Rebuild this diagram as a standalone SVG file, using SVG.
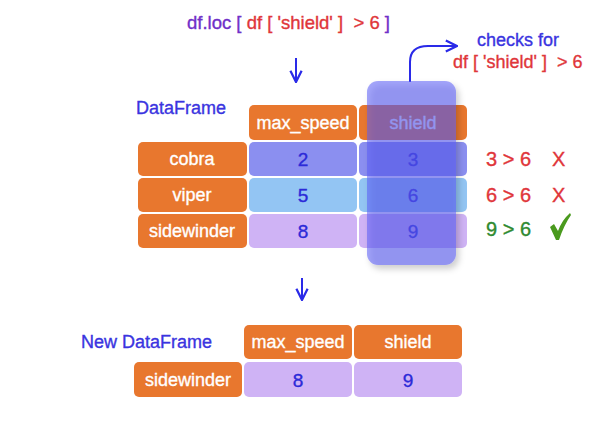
<svg xmlns="http://www.w3.org/2000/svg" width="612" height="421" viewBox="0 0 612 421">
<defs>
<style>
text{font-family:"Liberation Sans",Arial,sans-serif;stroke-width:0.35px}
.hdr{fill:#e8772e}
.lbl{fill:#fff;stroke:#fff;font-size:18px;text-anchor:middle}
.num{fill:#2c2ad8;stroke:#2c2ad8;font-size:19px;text-anchor:middle}
.blue{fill:#3a34e0;stroke:#3a34e0;font-size:18px}
.red{fill:#e0363a;stroke:#e0363a}
.pur{fill:#7030c8;stroke:#7030c8}
.grn{fill:#2f8a30;stroke:#2f8a30}
.cmp{font-size:20px}
.arr{stroke:#2a2ae8;stroke-width:2;fill:none}
</style>
<filter id="sh" x="-20%" y="-10%" width="150%" height="130%">
<feDropShadow dx="3" dy="4" stdDeviation="3" flood-color="#000" flood-opacity="0.35"/>
</filter>
<marker id="ah" viewBox="0 0 10 10" refX="9" refY="5" markerWidth="7" markerHeight="7" orient="auto">
<path d="M1,1 L9,5 L1,9" fill="none" stroke="#2a2ae8" stroke-width="1.6"/>
</marker>
</defs>
<rect width="612" height="421" fill="#fff"/>

<g id="title">
<text x="187" y="29" font-size="18.5" xml:space="preserve"><tspan class="pur">df.loc [ </tspan><tspan class="red">df [ 'shield' ]  &gt; 6 </tspan><tspan class="pur">]</tspan></text>
</g>

<g id="connectors">
<path class="arr" d="M296,58 V82" marker-end="url(#ah)"/>
<path class="arr" d="M302,278 V300" marker-end="url(#ah)"/>
<path class="arr" d="M410,82 V62 Q410,46 428,46 H457" marker-end="url(#ah)"/>
</g>

<g id="note">
<text x="477" y="46" class="blue">checks for</text>
<text x="453" y="68" class="red" font-size="18" xml:space="preserve">df [ 'shield' ]  &gt; 6</text>
</g>

<g id="df-label"><text x="136" y="114" class="blue">DataFrame</text></g>

<g id="df-table">
<rect class="hdr" x="249" y="105" width="108" height="35" rx="5"/>
<text x="303" y="129" class="lbl">max_speed</text>
<rect class="hdr" x="359" y="105" width="108" height="35" rx="5"/>
<text x="413" y="129" class="lbl">shield</text>

<rect class="hdr" x="138" y="142" width="109" height="34" rx="5"/>
<text x="192" y="165" class="lbl">cobra</text>
<rect x="249" y="142" width="108" height="34" rx="5" fill="#8b8ff0"/>
<text x="303" y="166" class="num">2</text>
<rect x="359" y="142" width="108" height="34" rx="5" fill="#8b8ff0"/>
<text x="413" y="166" class="num">3</text>

<rect class="hdr" x="138" y="178" width="109" height="34" rx="5"/>
<text x="192" y="201" class="lbl">viper</text>
<rect x="249" y="178" width="108" height="34" rx="5" fill="#93c5f3"/>
<text x="303" y="202" class="num">5</text>
<rect x="359" y="178" width="108" height="34" rx="5" fill="#93c5f3"/>
<text x="413" y="202" class="num">6</text>

<rect class="hdr" x="138" y="214" width="109" height="34" rx="5"/>
<text x="192" y="237" class="lbl">sidewinder</text>
<rect x="249" y="214" width="108" height="34" rx="5" fill="#cfb3f5"/>
<text x="303" y="238" class="num">8</text>
<rect x="359" y="214" width="108" height="34" rx="5" fill="#cfb3f5"/>
<text x="413" y="238" class="num">9</text>
</g>

<g id="highlight">
<rect x="367" y="81" width="89" height="184" rx="11" fill="#5a5cf6" fill-opacity="0.55" filter="url(#sh)"/>
</g>

<g id="checks">
<text x="486" y="166" class="red cmp">3 &gt; 6</text>
<text x="552" y="166" class="red cmp">X</text>
<text x="486" y="202" class="red cmp">6 &gt; 6</text>
<text x="552" y="202" class="red cmp">X</text>
<text x="486" y="236" class="grn cmp">9 &gt; 6</text>
<path d="M550,227 L554,224 L558,231 Q562,220 570,213 L571,215 Q564,225 559,240 L556,240 Z" fill="#4a9a1e"/>
</g>

<g id="new-label"><text x="81" y="348" class="blue">New DataFrame</text></g>

<g id="new-table">
<rect class="hdr" x="244" y="325" width="108" height="34" rx="5"/>
<text x="298" y="348" class="lbl">max_speed</text>
<rect class="hdr" x="354" y="325" width="108" height="34" rx="5"/>
<text x="408" y="348" class="lbl">shield</text>
<rect class="hdr" x="134" y="362" width="108" height="35" rx="5"/>
<text x="188" y="386" class="lbl">sidewinder</text>
<rect x="244" y="362" width="108" height="35" rx="5" fill="#cfb3f5"/>
<text x="298" y="387" class="num">8</text>
<rect x="354" y="362" width="108" height="35" rx="5" fill="#cfb3f5"/>
<text x="408" y="387" class="num">9</text>
</g>
</svg>
